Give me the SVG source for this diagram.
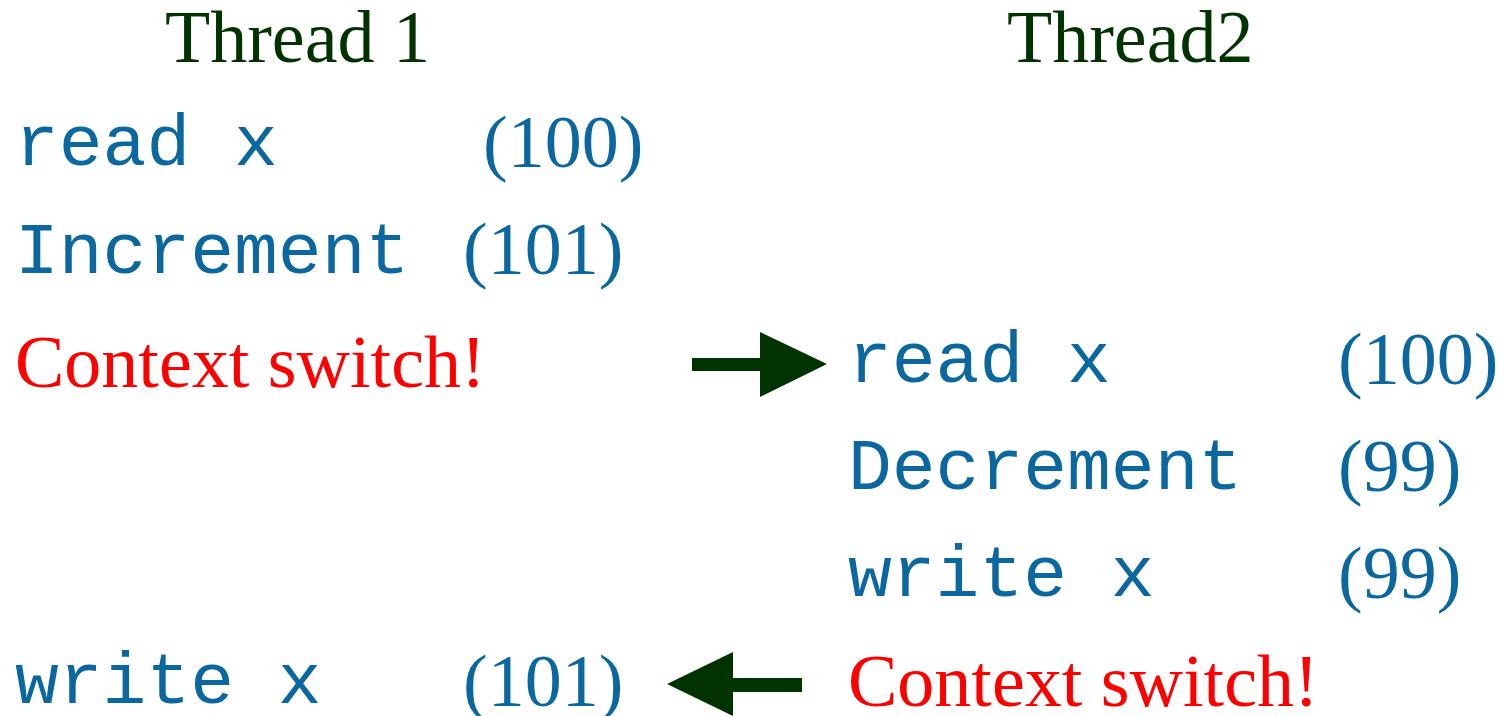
<svg xmlns="http://www.w3.org/2000/svg" width="1509" height="716" viewBox="0 0 1509 716">
<style>
.mono{font-family:"Liberation Mono","Courier New",monospace;font-size:73px;fill:#0b67a0}
.ser{font-family:"Liberation Serif","Times New Roman",serif;font-size:74px}
.num{fill:#0b67a0}
.hdr{fill:#003300}
.red{fill:#ff0000}
.arr{fill:#003300}
</style>
<rect width="1509" height="716" fill="#ffffff"/>
<g id="thread1">
<text class="ser hdr" x="165" y="62">Thread 1</text>
<text class="mono" x="15" y="165">read x</text>
<text class="ser num" x="483" y="167">(100)</text>
<text class="mono" x="15" y="273">Increment</text>
<text class="ser num" x="463" y="274">(101)</text>
<text class="ser red" x="15" y="387">Context switch!</text>
<text class="mono" x="15" y="703">write x</text>
<text class="ser num" x="463" y="706">(101)</text>
</g>
<g id="thread2">
<text class="ser hdr" x="1007" y="62">Thread2</text>
<text class="mono" x="848" y="382">read x</text>
<text class="ser num" x="1338" y="384">(100)</text>
<text class="mono" x="848" y="489">Decrement</text>
<text class="ser num" x="1338" y="491">(99)</text>
<text class="mono" x="848" y="596">write x</text>
<text class="ser num" x="1338" y="598">(99)</text>
<text class="ser red" x="848" y="706">Context switch!</text>
</g>
<g id="connectors">
<polygon class="arr" points="692,358 760,358 760,332 827,364 760,397 760,371 692,371"/>
<polygon class="arr" points="802,678 733,678 733,652 667,684 733,716 733,692 802,692"/>
</g>
</svg>
